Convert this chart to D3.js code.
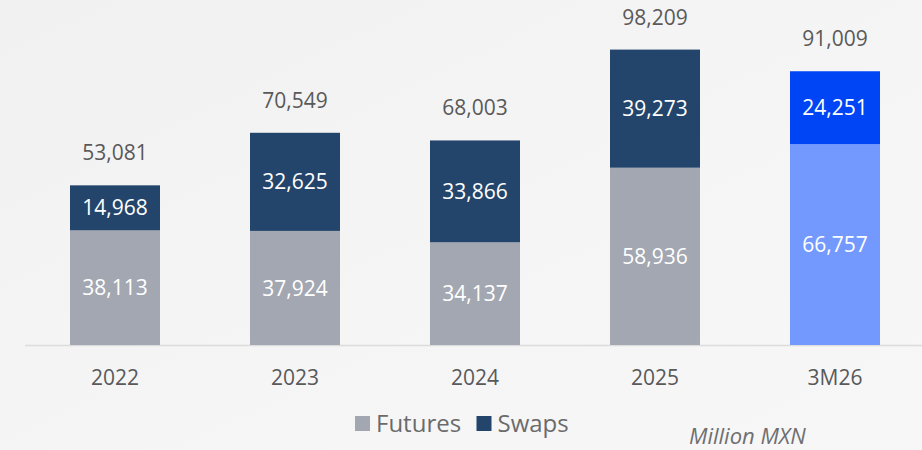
<!DOCTYPE html>
<html>
<head>
<meta charset="utf-8">
<script src="https://cdn.jsdelivr.net/npm/d3@7"></script>
<style>
  html, body { margin: 0; padding: 0; }
  body { width: 922px; height: 450px; overflow: hidden; }
  svg { display: block; font-family: "Open Sans", sans-serif; }
</style>
</head>
<body>
<svg id="chart" width="922" height="450"></svg>
<script>
// data (million MXN)
const categories = ['2022', '2023', '2024', '2025', '3M26'];
const futures = [38113, 37924, 34137, 58936, 66757];
const swaps = [14968, 32625, 33866, 39273, 24251];
const totals = [53081, 70549, 68003, 98209, 91009];
const seriesNames = ['Futures', 'Swaps'];

const W = 922, H = 450;
const baseY = 345;
const colors = { Futures: '#a3a7b1', Swaps: '#24456b' };
const hiColors = { Futures: '#7399ff', Swaps: '#0045f5' };
const highlight = '3M26';

const svg = d3.select('#chart');

// background
const defs = svg.append('defs');
const bg = defs.append('linearGradient').attr('id', 'bg').attr('x1', 0).attr('y1', 0).attr('x2', 1).attr('y2', 1);
bg.append('stop').attr('offset', '0%').attr('stop-color', '#f1f1f2');
bg.append('stop').attr('offset', '55%').attr('stop-color', '#f5f5f6');
bg.append('stop').attr('offset', '100%').attr('stop-color', '#f7f7f8');
svg.append('rect').attr('width', W).attr('height', H).attr('fill', 'url(#bg)');

const x = d3.scaleBand().domain(categories).range([25, 925]).paddingInner(0.5).paddingOuter(0.25);
const y = d3.scaleLinear().domain([0, 100000]).range([baseY, 44.2]);

const rows = categories.map((c, i) => ({ cat: c, Futures: futures[i], Swaps: swaps[i], total: totals[i] }));
const stacked = d3.stack().keys(seriesNames)(rows);

// axis line
svg.append('line')
  .attr('x1', 25).attr('x2', W).attr('y1', baseY + 0.5).attr('y2', baseY + 0.5)
  .attr('stroke', '#dcdcdc').attr('stroke-width', 1.5);

const layers = svg.append('g').selectAll('g').data(stacked).join('g');

layers.selectAll('rect')
  .data(s => s.map(d => ({ key: s.key, d })))
  .join('rect')
  .attr('x', o => x(o.d.data.cat))
  .attr('width', x.bandwidth())
  .attr('y', o => y(o.d[1]))
  .attr('height', o => y(o.d[0]) - y(o.d[1]))
  .attr('fill', o => o.d.data.cat === highlight ? hiColors[o.key] : colors[o.key]);

layers.selectAll('text')
  .data(s => s.map(d => ({ key: s.key, d })))
  .join('text')
  .attr('x', o => x(o.d.data.cat) + x.bandwidth() / 2)
  .attr('y', o => (y(o.d[0]) + y(o.d[1])) / 2)
  .attr('dy', '0.36em')
  .attr('text-anchor', 'middle')
  .attr('font-size', 21)
  .attr('fill', '#ffffff')
  .text(o => d3.format(',')(o.d[1] - o.d[0]));

// totals above the bars
svg.append('g').selectAll('text').data(rows).join('text')
  .attr('x', d => x(d.cat) + x.bandwidth() / 2)
  .attr('y', d => y(d.total) - 25)
  .attr('text-anchor', 'middle')
  .attr('font-size', 21)
  .attr('fill', '#595959')
  .text(d => d3.format(',')(d.total));

// category axis labels
const xAxis = svg.append('g')
  .attr('transform', `translate(0,${baseY})`)
  .call(d3.axisBottom(x).tickSize(0).tickPadding(0));
xAxis.select('.domain').remove();
xAxis.selectAll('text')
  .attr('y', 32)
  .attr('dy', '0.36em')
  .attr('font-family', '"Open Sans", sans-serif')
  .attr('font-size', 21)
  .attr('fill', '#595959');

// legend
const legend = svg.append('g');
const legendX = { Futures: 355, Swaps: 476.5 };
seriesNames.forEach(name => {
  const g = legend.append('g').attr('transform', `translate(${legendX[name]},416)`);
  g.append('rect').attr('width', 15).attr('height', 15).attr('fill', colors[name]);
  g.append('text')
    .attr('x', 21).attr('y', 7.5).attr('dy', '0.36em')
    .attr('font-size', 24).attr('fill', '#6b6b6b')
    .text(name);
});

svg.append('text')
  .attr('x', 689).attr('y', 436.5).attr('dy', '0.36em')
  .attr('font-size', 22).attr('font-style', 'italic')
  .attr('fill', '#6f6f6f')
  .text('Million MXN');
</script>
</body>
</html>
